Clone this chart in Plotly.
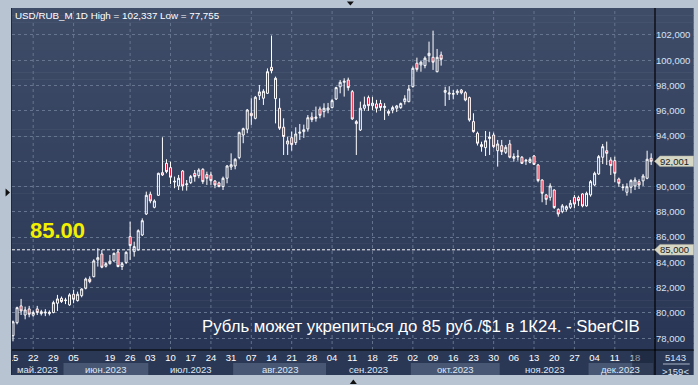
import pandas as pd
import plotly.graph_objects as go

# ---------------- data ----------------
dates = pd.bdate_range("2023-05-15", "2023-12-22")
dates = dates[dates != pd.Timestamp("2023-06-12")]  # holiday (no trading)

open_ = [78.20, 79.23, 80.56, 79.84, 80.32, 79.82, 80.32, 79.95, 80.00, 79.95,
         80.03, 80.77, 81.16, 80.98, 80.64, 81.48, 80.98, 81.37, 81.95, 82.69,
         82.87, 84.20, 84.67, 83.70, 83.90, 84.12, 84.83, 83.67, 84.00, 86.04,
         84.85, 84.99, 86.17, 87.83, 89.39, 88.36, 89.31, 91.10, 91.84, 91.50,
         90.36, 90.05, 91.23, 90.15, 90.31, 91.05, 90.87, 91.37, 90.95, 90.92,
         90.44, 90.29, 90.00, 90.66, 91.55, 91.63, 92.29, 94.08, 94.54, 95.80,
         95.40, 97.19, 96.99, 97.38, 99.44, 96.96, 96.20, 94.70, 93.37, 93.87,
         93.48, 94.22, 94.35, 94.56, 95.50, 95.40, 96.14, 95.93, 96.06, 96.25,
         96.93, 97.90, 98.25, 98.43, 97.51, 95.14, 94.48, 96.20, 97.04, 96.40,
         96.54, 96.57, 96.25, 95.95, 96.05, 96.20, 96.25, 96.72, 96.72, 97.91,
         99.76, 99.63, 99.57, 100.36, 100.23, 99.09, 100.41, 97.46, 97.32, 97.30,
         97.42, 97.64, 97.43, 97.04, 95.14, 94.22, 93.16, 93.08, 93.80, 94.08,
         92.84, 93.24, 92.71, 93.37, 92.24, 92.35, 92.32, 92.02, 91.92, 92.42,
         91.71, 90.52, 89.34, 89.15, 89.73, 88.20, 88.02, 88.20, 88.36, 89.15,
         89.13, 89.42, 88.47, 89.34, 90.13, 91.00, 92.32, 92.84, 92.10, 92.05,
         90.60, 89.92, 89.55, 89.94, 90.05, 90.39, 90.45, 90.66, 92.24]
high = [79.40, 80.50, 81.11, 80.50, 80.56, 80.20, 80.56, 80.25, 80.30, 80.20,
        80.97, 81.43, 81.30, 81.20, 81.56, 81.82, 81.69, 81.95, 82.80, 82.90,
        84.25, 85.12, 84.99, 84.03, 84.59, 84.78, 85.04, 84.04, 84.88, 87.22,
        85.64, 86.62, 87.49, 89.60, 89.60, 88.99, 91.10, 93.90, 92.16, 91.97,
        90.79, 90.92, 91.31, 90.52, 90.92, 91.31, 91.45, 91.45, 91.18, 91.18,
        90.52, 90.39, 90.79, 91.71, 92.63, 92.24, 94.35, 94.66, 96.14, 96.99,
        97.17, 98.04, 97.70, 99.35, 101.95, 98.70, 96.99, 95.40, 93.95, 94.35,
        94.69, 94.95, 94.90, 95.66, 95.87, 96.33, 96.33, 96.59, 96.62, 96.95,
        97.90, 98.43, 98.57, 98.62, 97.64, 95.27, 96.72, 97.12, 97.20, 97.10,
        96.86, 96.86, 96.60, 96.10, 96.40, 96.46, 96.65, 97.23, 98.04, 99.50,
        100.20, 99.94, 100.30, 101.47, 102.337, 100.89, 100.68, 97.90, 97.94, 97.64,
        97.70, 97.72, 97.55, 97.12, 95.80, 94.35, 93.55, 94.40, 94.34, 94.27,
        93.69, 93.69, 93.29, 93.69, 92.63, 92.90, 92.42, 92.19, 92.32, 92.50,
        91.79, 90.58, 89.42, 90.26, 89.79, 88.28, 88.62, 88.52, 88.94, 89.34,
        89.28, 89.47, 89.60, 90.52, 91.18, 92.50, 93.37, 93.56, 92.32, 92.37,
        90.71, 90.21, 90.26, 90.58, 90.73, 90.58, 91.00, 92.84, 92.63]
low = [77.755, 79.10, 79.84, 79.50, 79.66, 79.70, 79.84, 79.80, 79.75, 79.80,
       79.98, 80.16, 80.80, 80.70, 80.56, 80.77, 80.90, 81.24, 81.87, 82.35,
       82.82, 83.67, 83.54, 83.60, 83.83, 84.06, 83.62, 83.40, 83.87, 84.20,
       84.46, 84.94, 86.09, 87.75, 88.68, 88.28, 89.26, 90.84, 91.05, 90.21,
       89.87, 89.73, 89.68, 89.68, 90.20, 90.39, 90.66, 90.21, 90.13, 90.13,
       89.87, 89.95, 89.73, 90.26, 91.31, 91.37, 92.16, 93.43, 94.22, 94.88,
       95.32, 96.85, 96.46, 97.33, 98.96, 95.00, 94.48, 92.50, 92.50, 92.84,
       93.29, 93.69, 93.85, 94.35, 95.10, 95.14, 95.40, 95.48, 95.80, 96.20,
       96.85, 97.38, 97.12, 97.59, 95.27, 92.50, 94.40, 95.99, 95.99, 96.05,
       95.86, 96.00, 95.27, 95.60, 95.80, 95.90, 96.15, 96.49, 96.67, 97.83,
       99.09, 99.09, 99.36, 99.84, 99.23, 99.04, 99.57, 96.38, 96.85, 96.90,
       97.25, 97.30, 96.75, 95.14, 94.27, 93.25, 92.76, 92.42, 92.50, 93.03,
       91.58, 92.50, 92.58, 92.24, 91.97, 92.05, 91.79, 91.71, 91.84, 91.71,
       90.34, 88.76, 88.55, 88.89, 88.23, 87.62, 87.89, 88.02, 88.23, 88.28,
       88.47, 88.36, 88.41, 89.20, 90.05, 90.92, 91.79, 91.71, 90.92, 90.34,
       89.99, 89.68, 89.28, 89.47, 89.73, 89.81, 90.05, 90.58, 91.71]
close = [79.30, 80.42, 80.16, 80.24, 79.90, 80.03, 80.03, 80.10, 80.06, 80.05,
         80.82, 81.11, 80.90, 81.02, 81.43, 81.08, 81.48, 81.90, 82.69, 82.48,
         84.12, 84.38, 83.62, 83.90, 84.10, 84.72, 83.67, 83.90, 84.80, 85.33,
         85.25, 86.51, 87.30, 89.31, 88.86, 88.86, 91.05, 90.92, 91.18, 90.74,
         90.42, 90.66, 90.05, 90.21, 90.79, 90.79, 91.31, 90.39, 90.66, 90.47,
         90.13, 90.00, 90.66, 91.63, 91.73, 92.16, 94.27, 94.58, 96.06, 95.61,
         97.07, 97.49, 97.54, 99.09, 99.17, 98.57, 94.62, 93.96, 93.61, 93.32,
         94.16, 94.30, 94.50, 95.45, 95.30, 95.50, 95.64, 96.20, 96.22, 96.80,
         97.83, 98.25, 98.33, 97.83, 95.35, 94.98, 96.20, 96.46, 96.40, 96.60,
         96.20, 96.25, 96.35, 95.80, 96.25, 96.38, 96.57, 96.95, 97.72, 99.36,
         99.28, 99.84, 100.16, 100.55, 99.84, 100.23, 100.07, 97.60, 97.40, 97.36,
         97.55, 97.42, 96.85, 95.27, 94.35, 93.43, 93.32, 93.63, 93.92, 93.16,
         93.37, 92.77, 93.11, 92.32, 92.37, 92.40, 91.84, 92.08, 92.16, 91.76,
         90.47, 89.47, 88.99, 90.05, 88.34, 87.83, 88.47, 88.41, 88.68, 88.62,
         88.89, 88.47, 89.47, 90.39, 91.05, 92.37, 93.16, 92.63, 91.66, 91.05,
         90.26, 89.96, 89.99, 90.47, 90.52, 90.13, 90.84, 92.16, 92.001]

price_ticks = [78, 80, 82, 84, 86, 88, 90, 92, 94, 96, 98, 100, 102]
# 92,000 is covered by the last-price marker in the original, so its label is blank
price_labels = ["78,000", "80,000", "82,000", "84,000", "86,000", "88,000", "90,000",
                "", "94,000", "96,000", "98,000", "100,000", "102,000"]
month_names = {5: "май.2023", 6: "июн.2023", 7: "июл.2023", 8: "авг.2023",
               9: "сен.2023", 10: "окт.2023", 11: "ноя.2023", 12: "дек.2023"}
target = 85.0
last_label = "92,001"
title_text = "USD/RUB_M 1D High = 102,337 Low = 77,755"
caption = "Рубль может укрепиться до 85 руб./$1 в 1К24. - SberCIB"
bars_info = ["5143", ">159<"]

# ---------------- geometry helpers (layout only) ----------------
W, H = 698, 385
ML, MR, MT, MB = 8, 42, 8, 35
PW, PH = W - ML - MR, H - MT - MB
XR = [-0.25, 158.95]
YR = [77.07, 104.13]


def px(x):
    return (x - ML) / PW


def py(y):
    return (H - MB - y) / PH


idx = list(range(len(dates)))
mon_idx = [i for i, d in enumerate(dates) if d.weekday() == 0]
mon_txt = [f"{dates[i].day:02d}" for i in mon_idx]
grid_idx = mon_idx[-2::-2]  # every second week label, counted from the right

FRAME = "#b9c4d3"
shapes = []
annotations = []

# gradient background for plot + right scale
N = 48
c_top = (63, 76, 104)
c_bot = (41, 54, 85)
for k in range(N):
    t = k / (N - 1)
    col = tuple(int(round(c_top[j] + (c_bot[j] - c_top[j]) * t)) for j in range(3))
    y0 = MT + PH * k / N
    y1 = MT + PH * (k + 1) / N + 0.6
    shapes.append(dict(type="rect", xref="paper", yref="paper", layer="below",
                       x0=px(ML), x1=px(695), y0=py(y1), y1=py(y0),
                       line=dict(width=0), fillcolor="rgb(%d,%d,%d)" % col))

# bottom axis panel
shapes.append(dict(type="rect", xref="paper", yref="paper", layer="below",
                   x0=px(ML), x1=px(695), y0=py(375), y1=py(350),
                   line=dict(width=0), fillcolor="#2b3855"))

# month bands + month labels
for m in sorted(month_names):
    ii = [i for i, d in enumerate(dates) if d.month == m]
    a = max(ii[0] - 0.5, XR[0])
    b = min(ii[-1] + 0.5, XR[1])
    if m % 2 == 0:
        shapes.append(dict(type="rect", xref="x", yref="paper", layer="below",
                           x0=a, x1=b, y0=py(375), y1=py(363),
                           line=dict(width=0), fillcolor="#485773"))
    annotations.append(dict(x=(a + b) / 2, y=py(369.5), xref="x", yref="paper",
                            text=month_names[m], showarrow=False,
                            font=dict(size=9.5, color="#dfe7f5"),
                            xanchor="center", yanchor="middle"))

# current-week darker overlay on axis
shapes.append(dict(type="rect", xref="paper", yref="paper", layer="above",
                   x0=px(633), x1=px(655), y0=py(375), y1=py(351),
                   line=dict(width=0), fillcolor="rgba(20,28,48,0.45)"))

# vertical grid lines (every second week label)
for i in grid_idx:
    shapes.append(dict(type="line", xref="x", yref="paper", layer="below",
                       x0=i, x1=i, y0=0, y1=1,
                       line=dict(color="#65748f", width=1, dash="3px,3px")))

# target dotted line
shapes.append(dict(type="line", xref="paper", yref="y", layer="above",
                   x0=0, x1=1, y0=target, y1=target,
                   line=dict(color="#f0f0f0", width=1, dash="3px,2px")))

# separators
shapes.append(dict(type="line", xref="paper", yref="paper", layer="above",
                   x0=1, x1=1, y0=py(375), y1=1, line=dict(color="#000000", width=1.2)))
shapes.append(dict(type="line", xref="paper", yref="paper", layer="above",
                   x0=px(ML), x1=px(695), y0=0, y1=0, line=dict(color="#000000", width=1.2)))

# price boxes on the right scale
hh = 5.3 * (YR[1] - YR[0]) / PH
for val, txt in [(target, "85,000"), (close[-1], last_label)]:
    path = "M {a},{yc} L {b},{yt} L {c},{yt} L {c},{yb} L {b},{yb} Z".format(
        a=px(655.5), b=px(661), c=px(695), yc=val, yt=val + hh, yb=val - hh)
    shapes.append(dict(type="path", xref="paper", yref="y", layer="above", path=path,
                       fillcolor="#d7d7c6", line=dict(color="#b0b0a0", width=0.5)))
    annotations.append(dict(x=px(659), y=val, xref="paper", yref="y", text=txt,
                            showarrow=False, xanchor="left", yanchor="middle",
                            font=dict(size=9.5, color="#1c1c1c")))

# bars count box
annotations.append(dict(x=px(677), y=py(357.5), xref="paper", yref="paper", text=bars_info[0],
                        showarrow=False, xanchor="center", yanchor="middle",
                        font=dict(size=9.5, color="#d8e2f5")))
annotations.append(dict(x=px(677), y=py(371.5), xref="paper", yref="paper", text=bars_info[1],
                        showarrow=False, xanchor="center", yanchor="middle",
                        font=dict(size=9.5, color="#d8e2f5")))
shapes.append(dict(type="line", xref="paper", yref="paper", layer="above",
                   x0=px(664), x1=px(691), y0=py(364), y1=py(364),
                   line=dict(color="#a8b4c8", width=1)))

# outer frame strips (drawn above to hide overflow)
shapes.append(dict(type="rect", xref="paper", yref="paper", layer="above",
                   x0=px(0), x1=px(ML - 0.5), y0=py(H), y1=py(0),
                   line=dict(width=0), fillcolor=FRAME))
shapes.append(dict(type="line", xref="paper", yref="paper", layer="above",
                   x0=px(ML - 0.5), x1=px(ML - 0.5), y0=py(375), y1=py(MT),
                   line=dict(color="#1e2840", width=1)))
# small triangles of the frame
shapes.append(dict(type="path", xref="paper", yref="paper", layer="above",
                   path="M {},{} L {},{} L {},{} Z".format(px(345.5), py(1.5), px(352.5), py(1.5), px(349), py(5.5)),
                   fillcolor="#101010", line=dict(width=0)))
shapes.append(dict(type="path", xref="paper", yref="paper", layer="above",
                   path="M {},{} L {},{} L {},{} Z".format(px(348.5), py(384), px(355.5), py(384), px(352), py(379.5)),
                   fillcolor="#101010", line=dict(width=0)))
shapes.append(dict(type="path", xref="paper", yref="paper", layer="above",
                   path="M {},{} L {},{} L {},{} Z".format(px(1.5), py(188.5), px(1.5), py(196.5), px(6), py(192.5)),
                   fillcolor="#101010", line=dict(width=0)))

# texts
annotations.append(dict(x=px(9), y=py(15), xref="paper", yref="paper", text=title_text,
                        showarrow=False, xanchor="left", yanchor="middle",
                        font=dict(size=9.8, color="#ffffff")))
annotations.append(dict(x=px(24), y=py(230), xref="paper", yref="paper",
                        text="<b>%.2f</b>" % target, showarrow=False,
                        xanchor="left", yanchor="middle",
                        font=dict(size=22, color="#f2f000")))
annotations.append(dict(x=px(643), y=py(326), xref="paper", yref="paper", text=caption,
                        showarrow=False, xanchor="right", yanchor="middle",
                        font=dict(size=16.8, color="#ffffff")))

fig = go.Figure(go.Candlestick(
    x=idx, open=open_, high=high, low=low, close=close,
    increasing=dict(line=dict(color="#ffffff", width=1), fillcolor="rgba(0,0,0,0)"),
    decreasing=dict(line=dict(color="#ffffff", width=1), fillcolor="#e3132f"),
    whiskerwidth=0, hoverinfo="skip", showlegend=False))

fig.update_layout(
    width=W, height=H,
    margin=dict(l=ML, r=MR, t=MT, b=MB, pad=0),
    paper_bgcolor=FRAME, plot_bgcolor="rgba(0,0,0,0)",
    font=dict(family="Liberation Sans, Arial, sans-serif", size=9.5, color="#ffffff"),
    showlegend=False, shapes=shapes, annotations=annotations,
    xaxis=dict(range=XR, tickvals=mon_idx, ticktext=mon_txt, showgrid=False,
               zeroline=False, showline=False, ticks="", ticklen=0,
               tickfont=dict(size=9.5, color="#ffffff"), rangeslider=dict(visible=False),
               fixedrange=True),
    yaxis=dict(side="right", range=YR, tickvals=price_ticks, ticktext=price_labels,
               showgrid=True, gridcolor="#65748f", griddash="3px,3px", gridwidth=1,
               zeroline=False, showline=False, ticks="", ticklen=0,
               tickfont=dict(size=9.5, color="#d8e2f5"), fixedrange=True),
)

fig.write_html("out.html")
